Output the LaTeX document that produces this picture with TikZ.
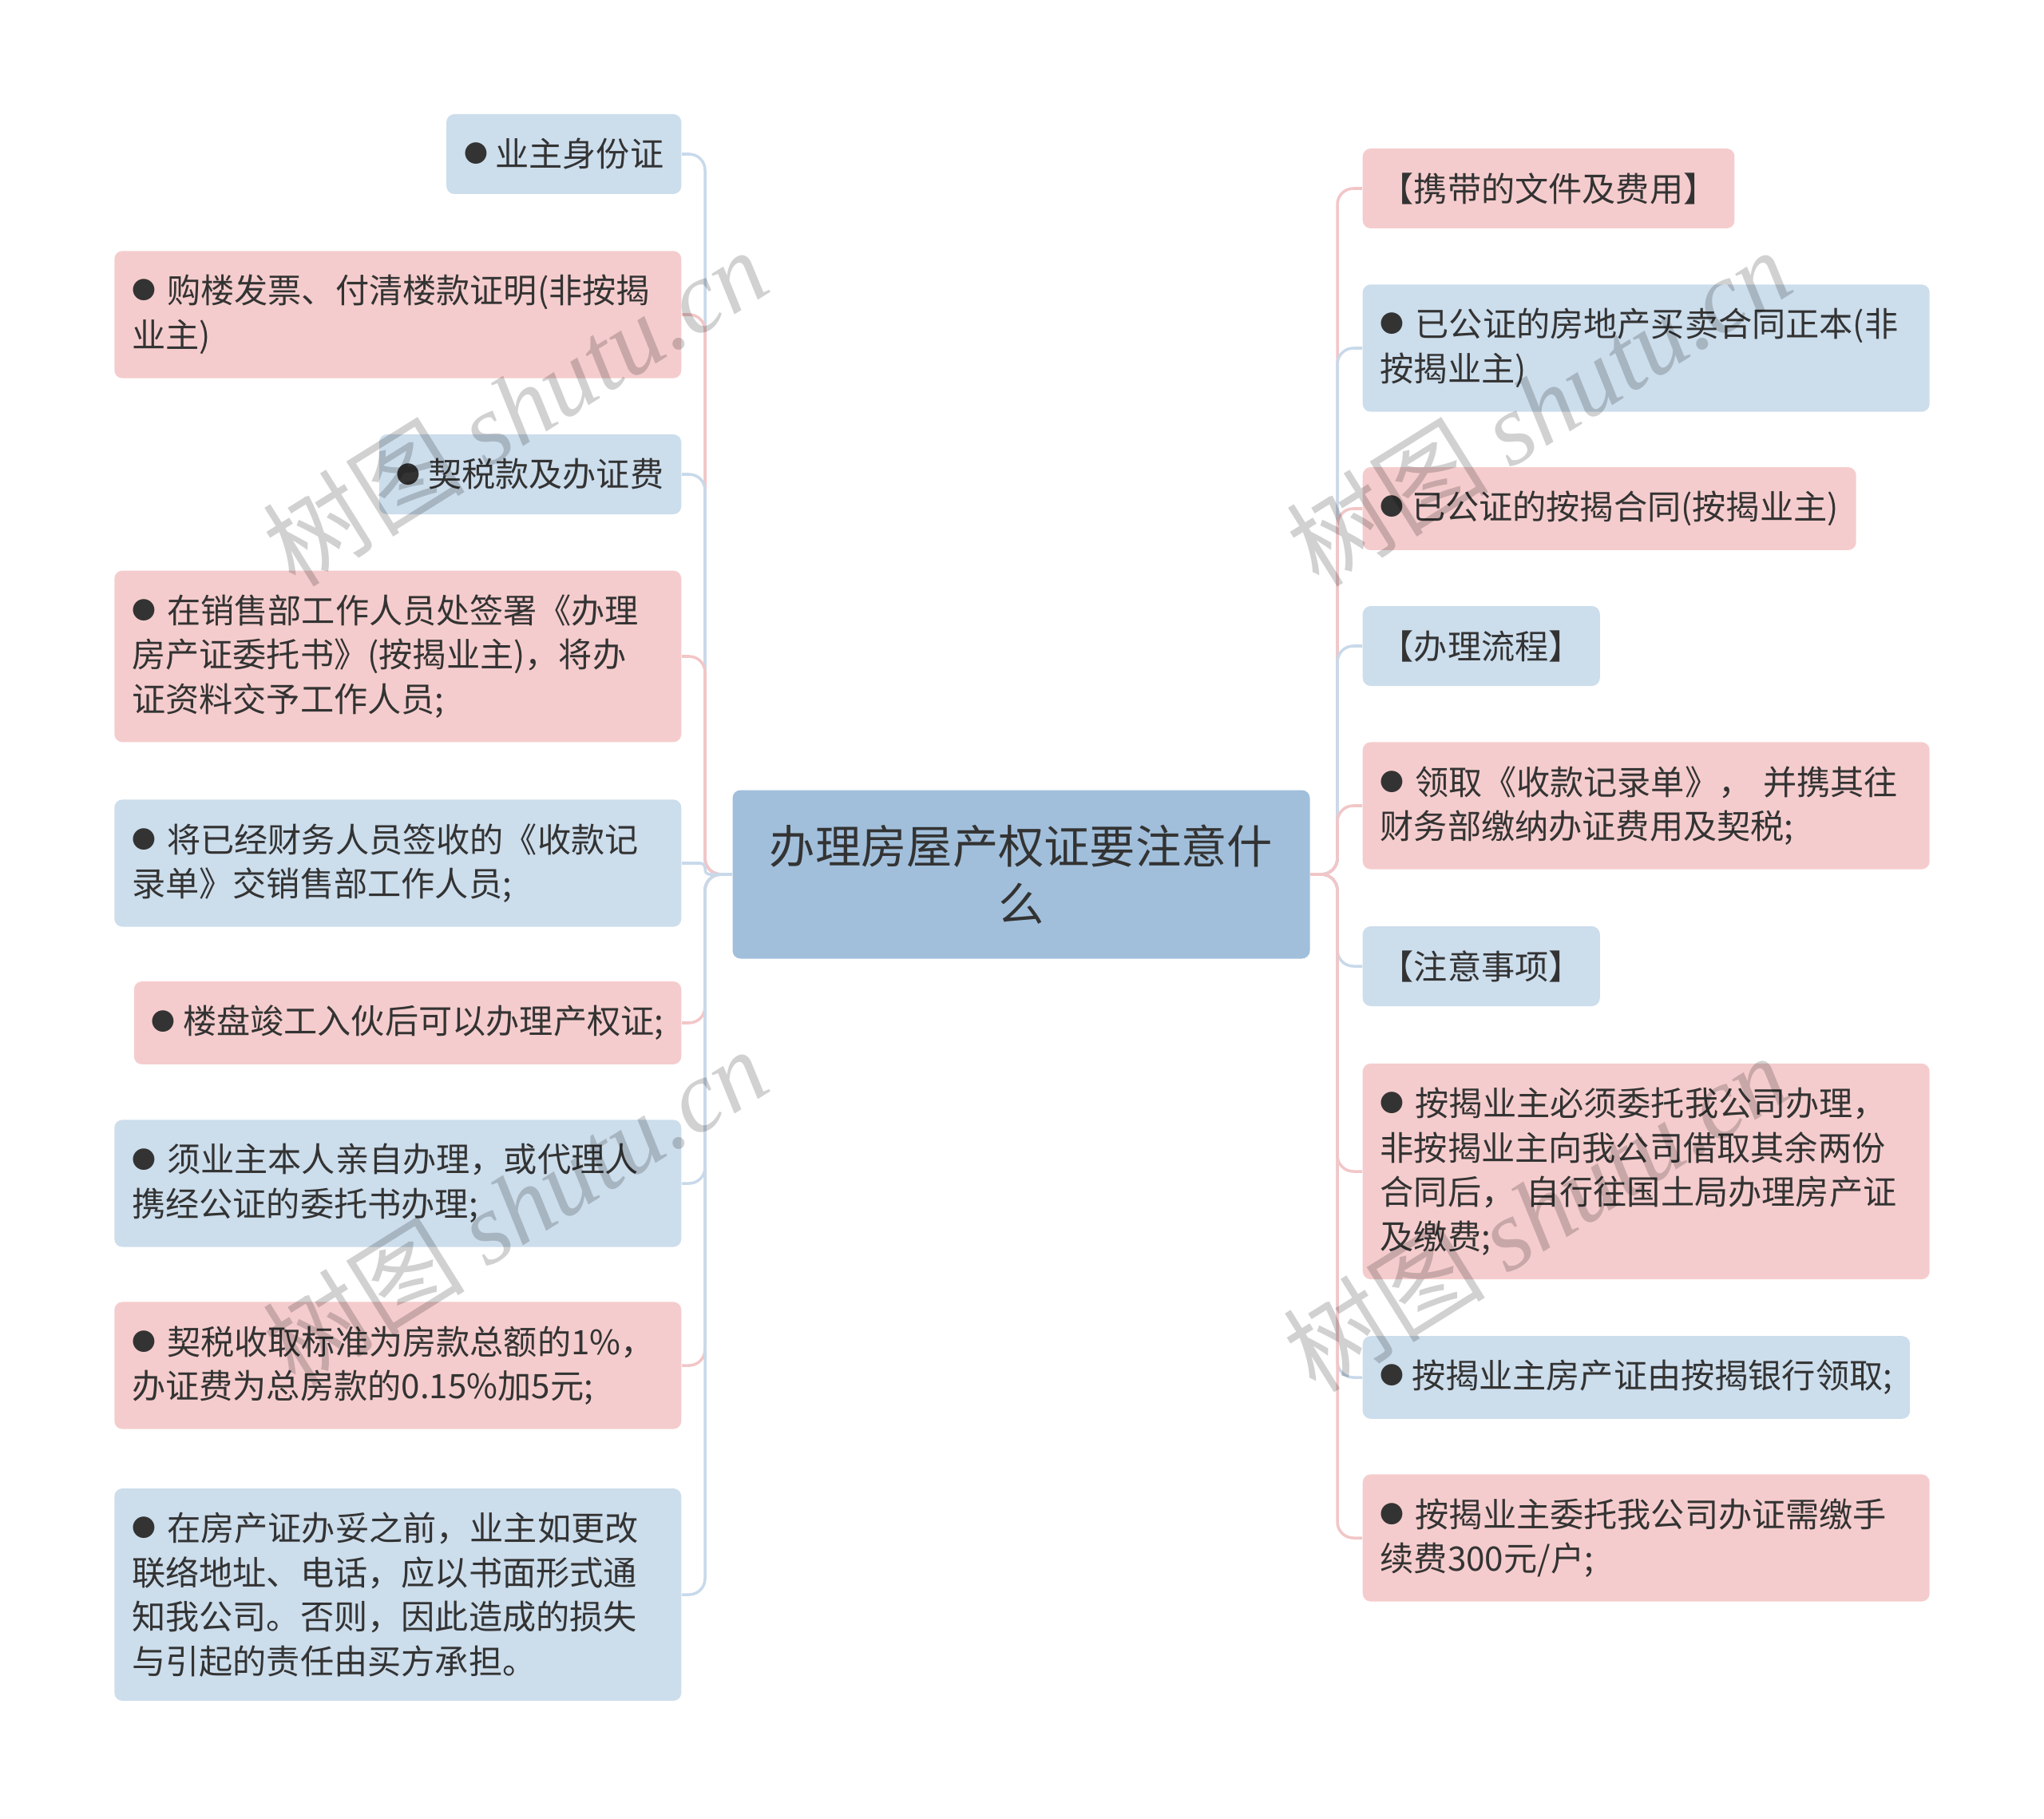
\documentclass[tikz,border=0pt]{standalone}
\usepackage{fontspec}
\newfontfamily\cjk{Noto Sans CJK SC}
\newfontfamily\wmserif{Liberation Serif}
\definecolor{pinkfill}{HTML}{F5CCCD}
\definecolor{bluefill}{HTML}{CCDDEC}
\definecolor{rootfill}{HTML}{A1BFDB}
\definecolor{pinkline}{HTML}{F2C6C7}
\definecolor{blueline}{HTML}{C8D9EA}
\definecolor{txt}{HTML}{333333}
% small list bullet, lifted to the middle of the characters
\newcommand\itembullet{\raisebox{1.4pt}{\fontsize{8.5}{9}\selectfont ●}~}

\begin{document}
\begin{tikzpicture}[font=\cjk\fontsize{12}{15.8}\selectfont,
  box/.style={rounded corners=0.1cm, inner xsep=0.22cm, inner ysep=0.3cm, minimum height=1cm, text=txt, align=left},
  pbox/.style={box, fill=pinkfill},
  bbox/.style={box, fill=bluefill},
  wide/.style={text width=6.66cm},
  conn/.style={line width=1pt}]
  \useasboundingbox (0,0) rectangle (25.6,-22.78);
  % centre topic
  \node[fill=rootfill, rounded corners=0.1cm, minimum width=7.23cm, minimum height=2.11cm, align=center, text=txt,
        font=\cjk\fontsize{16.3}{20.5}\selectfont] (root) at (12.79,-10.95) {办理房屋产权证要注意什\\么};
  \coordinate (spineL) at (8.83,0);
  \coordinate (spineR) at (16.75,0);
  % left branch
  \node[bbox, anchor=east] (l1) at (8.54,-1.93) {\itembullet 业主身份证};
  \node[pbox, wide, anchor=east] (l2) at (8.54,-3.94) {\itembullet 购楼发票、付清楼款证明(非按揭\\业主)};
  \node[bbox, anchor=east] (l3) at (8.54,-5.94) {\itembullet 契税款及办证费};
  \node[pbox, wide, anchor=east] (l4) at (8.54,-8.22) {\itembullet 在销售部工作人员处签署《办理\\房产证委托书》(按揭业主)，将办\\证资料交予工作人员;};
  \node[bbox, wide, anchor=east] (l5) at (8.54,-10.81) {\itembullet 将已经财务人员签收的《收款记\\录单》交销售部工作人员;};
  \node[pbox, anchor=east] (l6) at (8.54,-12.81) {\itembullet 楼盘竣工入伙后可以办理产权证;};
  \node[bbox, wide, anchor=east] (l7) at (8.54,-14.82) {\itembullet 须业主本人亲自办理，或代理人\\携经公证的委托书办理;};
  \node[pbox, wide, anchor=east] (l8) at (8.54,-17.10) {\itembullet 契税收取标准为房款总额的1\%，\\办证费为总房款的0.15\%加5元;};
  \node[bbox, wide, anchor=east] (l9) at (8.54,-19.97) {\itembullet 在房产证办妥之前，业主如更改\\联络地址、电话，应以书面形式通\\知我公司。否则，因此造成的损失\\与引起的责任由买方承担。};
  % right branch
  \node[pbox, anchor=west] (r1) at (17.06,-2.36) {【携带的文件及费用】};
  \node[bbox, wide, anchor=west] (r2) at (17.06,-4.36) {\itembullet 已公证的房地产买卖合同正本(非\\按揭业主)};
  \node[pbox, anchor=west] (r3) at (17.06,-6.37) {\itembullet 已公证的按揭合同(按揭业主)};
  \node[bbox, anchor=west] (r4) at (17.06,-8.09) {【办理流程】};
  \node[pbox, wide, anchor=west] (r5) at (17.06,-10.09) {\itembullet 领取《收款记录单》， 并携其往\\财务部缴纳办证费用及契税;};
  \node[bbox, anchor=west] (r6) at (17.06,-12.10) {【注意事项】};
  \node[pbox, wide, anchor=west] (r7) at (17.06,-14.67) {\itembullet 按揭业主必须委托我公司办理，\\非按揭业主向我公司借取其余两份\\合同后， 自行往国土局办理房产证\\及缴费;};
  \node[bbox, anchor=west] (r8) at (17.06,-17.25) {\itembullet 按揭业主房产证由按揭银行领取;};
  \node[pbox, wide, anchor=west] (r9) at (17.06,-19.26) {\itembullet 按揭业主委托我公司办证需缴手\\续费300元/户;};
  % connectors
  \foreach \n/\c/\r in {l1/blueline/0.2, l2/pinkline/0.2, l3/blueline/0.2, l4/pinkline/0.2, l5/blueline/0.06,
                        l6/pinkline/0.2, l7/blueline/0.2, l8/pinkline/0.2, l9/blueline/0.2}
    \draw[conn, \c, rounded corners=\r cm] (root.west) -- (root.west -| spineL) |- (\n.east);
  \foreach \n/\c in {r1/pinkline, r2/blueline, r3/pinkline, r4/blueline, r5/pinkline,
                     r6/blueline, r7/pinkline, r8/blueline, r9/pinkline}
    \draw[conn, \c, rounded corners=0.2cm] (root.east) -- (root.east -| spineR) |- (\n.west);
  % watermark
  \foreach \wx/\wy [count=\i] in {6.45/-5.09, 19.27/-5.09, 6.45/-15.10, 19.23/-15.18}
    \node[rotate=32, text=black, opacity=0.18, font=\cjk\fontsize{36}{40}\selectfont] (wm\i) at (\wx,\wy)
      {树图 {\wmserif\itshape shutu.cn}};
\end{tikzpicture}
\end{document}
